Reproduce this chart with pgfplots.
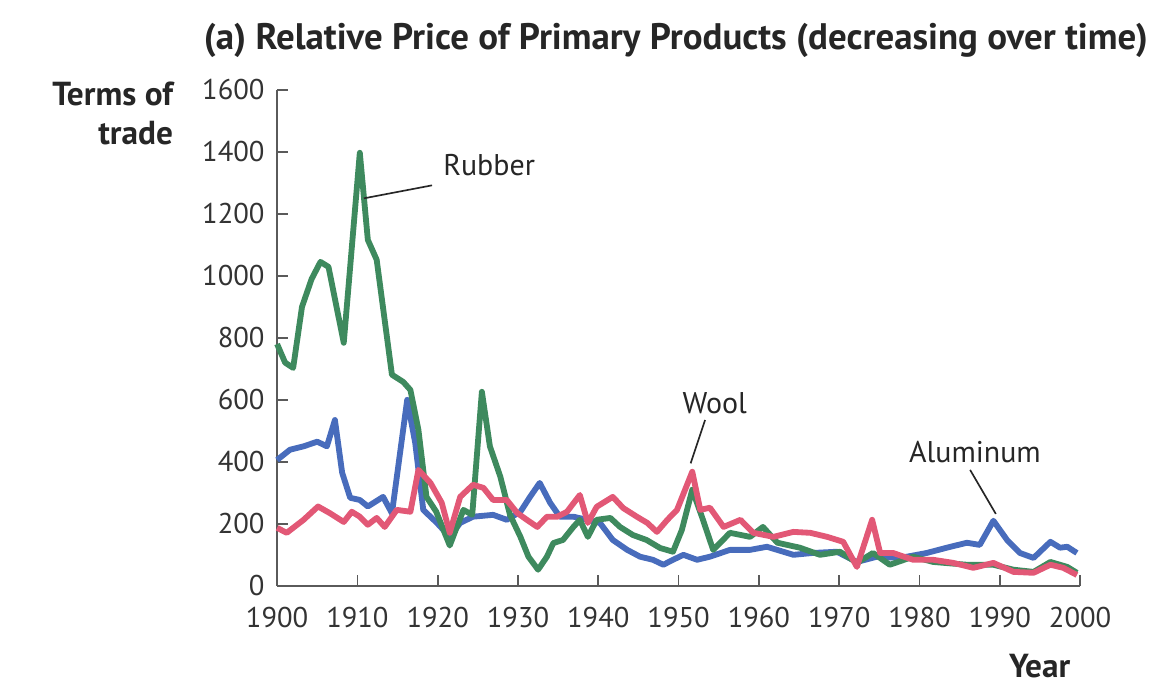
\documentclass[border=0pt]{standalone}
\usepackage{fontspec}
\setmainfont{PT Sans}
\usepackage{pgfplots}
\pgfplotsset{compat=1.18}

\definecolor{rubber}{RGB}{62,138,94}
\definecolor{alum}{RGB}{72,108,188}
\definecolor{wool}{RGB}{226,88,118}
\definecolor{axisgray}{RGB}{90,90,90}

\begin{document}
\begin{tikzpicture}
  \begin{axis}[
      scale only axis,
      width=289.5pt, height=178.8pt,
      xmin=1900, xmax=2000,
      ymin=0, ymax=1600,
      xtick={1900,1910,...,2000},
      ytick={0,200,...,1600},
      axis x line*=bottom,
      axis y line*=left,
      axis line style={axisgray, line width=0.6pt},
      tick style={axisgray, line width=0.6pt},
      tick align=inside,
      major tick length=4pt,
      x tick label style={/pgf/number format/1000 sep={}, font=\fontsize{10.3}{12}\selectfont, text=black!80, yshift=-4pt},
      y tick label style={/pgf/number format/1000 sep={}, font=\fontsize{10.3}{12}\selectfont, text=black!80, xshift=-1pt},
      /pgf/number format/assume math mode=true,
      every axis plot/.append style={line width=2.1pt, line join=round},
      clip=false,
    ]
    % Aluminum
    \addplot[alum] coordinates {
      (1900,406) (1901.6,439) (1903.3,450) (1905,465) (1906.2,450) (1907.2,535)
      (1908.1,365) (1909.1,284) (1910.3,277) (1911.3,256) (1913.2,287) (1914.3,234)
      (1916.2,600) (1917.2,461) (1918.2,245) (1919.9,203) (1921.5,158) (1922.8,203)
      (1924.4,223) (1926.9,229) (1928.6,213) (1930.3,239) (1931.5,287) (1932.7,332)
      (1934,268) (1935.2,223) (1936.9,223) (1938.6,213) (1940.2,203) (1941.8,148)
      (1943.6,116) (1945.2,94) (1946.8,84) (1948.1,68) (1949.3,84) (1950.6,100)
      (1952.3,84) (1953.9,94) (1956.4,116) (1958.9,116) (1961,126) (1964.3,100)
      (1966.7,106) (1969.7,110) (1972.2,77) (1974.7,94) (1977.6,90) (1980.9,106)
      (1983.4,123) (1985.9,139) (1987.5,132) (1989.2,210) (1990.9,148) (1992.5,106)
      (1994.2,90) (1996.3,142) (1997.5,123) (1998.4,126) (1999.6,106)
    };
    % Rubber
    \addplot[rubber] coordinates {
      (1900,780) (1901,720) (1902,703) (1903.1,900) (1904.3,990) (1905.4,1045)
      (1906.4,1029) (1908.3,784) (1910.3,1397) (1911.3,1116) (1912.4,1052)
      (1914.3,681) (1915.7,658) (1916.6,632) (1917.6,503) (1918.6,287)
      (1919.8,240) (1921.5,130) (1923.2,245) (1924.3,229) (1925.5,626)
      (1926.5,450) (1927.8,352) (1929,229) (1930.3,158) (1931.3,94) (1932.5,52)
      (1933.6,94) (1934.4,138) (1935.6,148) (1936.9,190) (1937.7,213)
      (1938.7,158) (1939.8,213) (1941.5,219) (1942.7,190) (1944.3,164) (1946,148)
      (1947.7,122) (1949.3,110) (1950.4,180) (1951.7,310) (1952.9,223)
      (1954.3,116) (1956.4,171) (1958.9,158) (1960.5,190) (1962.3,139)
      (1965.1,123) (1967.6,100) (1970.1,110) (1972.2,74) (1974.2,106)
      (1976.3,68) (1979.2,94) (1981.7,77) (1985.9,68) (1989.2,68) (1991.7,52)
      (1994.2,45) (1996.3,77) (1998.4,61) (1999.6,42)
    };
    % Wool
    \addplot[wool] coordinates {
      (1900,187) (1901.2,171) (1903.3,213) (1905.1,256) (1906.6,234) (1908.3,206)
      (1909.3,239) (1910.3,223) (1911.3,197) (1912.4,219) (1913.4,190)
      (1914.9,245) (1916.6,239) (1917.6,374) (1919.1,332) (1920.5,268)
      (1921.5,171) (1922.8,287) (1924.4,326) (1925.7,316) (1926.9,277)
      (1928.6,277) (1929.9,235) (1931.1,213) (1932.4,190) (1933.6,223)
      (1934.9,223) (1936.1,239) (1937.7,293) (1938.7,203) (1939.8,255)
      (1941.8,287) (1943.1,251) (1944.8,223) (1946.1,203) (1947.3,174)
      (1948.6,213) (1949.8,245) (1951.7,368) (1952.7,245) (1953.9,252)
      (1955.6,190) (1957.7,213) (1959.3,171) (1961.8,158) (1964.3,174)
      (1966.4,171) (1968.5,158) (1970.5,142) (1972.2,61) (1974.1,213)
      (1975.1,106) (1976.7,106) (1979.2,84) (1981.7,84) (1984.2,74) (1986.7,58)
      (1989.2,74) (1991.7,45) (1994.2,42) (1996.3,68) (1997.9,58) (1999.6,35)
    };

    % annotations
    \draw[black!85, line width=0.6pt] (axis cs:1919.3,1292) -- (axis cs:1910.8,1250);
    \node[anchor=west, font=\fontsize{10.8}{12}\selectfont, text=black!85]
      at (axis cs:1919.5,1358) {Rubber};
    \draw[black!85, line width=0.6pt] (axis cs:1953.3,535) -- (axis cs:1951.5,395);
    \node[font=\fontsize{10.8}{12}\selectfont, text=black!85]
      at (axis cs:1954.5,590) {Wool};
    \draw[black!85, line width=0.6pt] (axis cs:1986.3,374) -- (axis cs:1989.5,232);
    \node[font=\fontsize{10.8}{12}\selectfont, text=black!85]
      at (axis cs:1986.9,432) {Aluminum};
  \end{axis}

  % title and axis labels
  \node[font=\bfseries\fontsize{13.3}{15}\selectfont, text=black!85]
    at ([xshift=-1pt, yshift=18pt]current axis.north) {(a) Relative Price of Primary Products (decreasing over time)};
  \node[anchor=north east, align=right, font=\bfseries\fontsize{12}{14}\selectfont, text=black!85]
    at ([xshift=-34pt, yshift=6.5pt]current axis.north west) {Terms of\\trade};
  \node[anchor=north east, font=\bfseries\fontsize{12}{14}\selectfont, text=black!85]
    at ([yshift=-21pt]current axis.south east) {Year};

  % page size as in the reference
  \path ([xshift=-99.9pt, yshift=-37.5pt]current axis.south west)
     rectangle ([xshift=30.6pt, yshift=32.4pt]current axis.north east);
\end{tikzpicture}
\end{document}
